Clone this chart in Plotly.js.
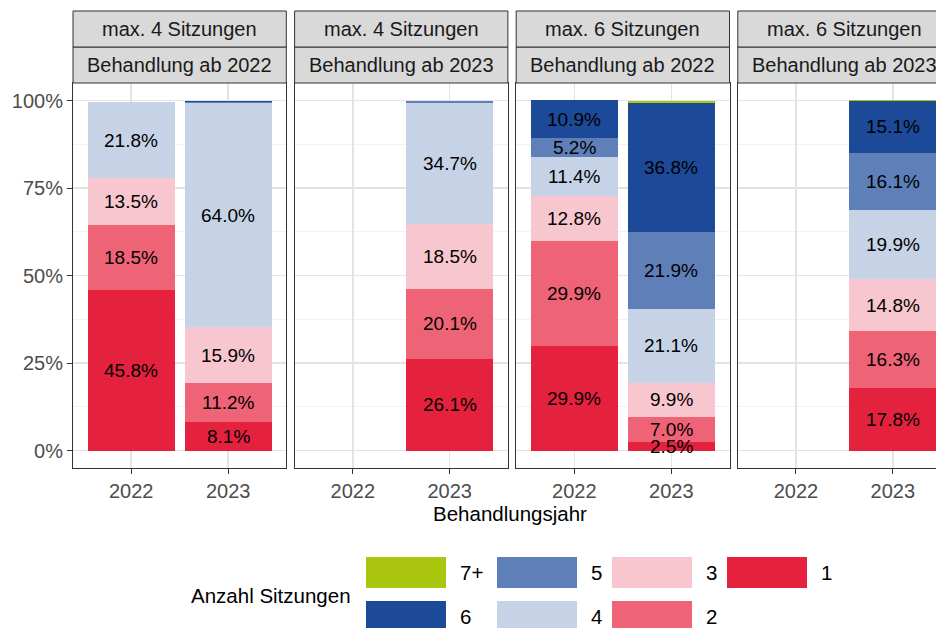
<!DOCTYPE html>
<html>
<head>
<meta charset="utf-8">
<script src="https://cdn.plot.ly/plotly-3.0.1.min.js"></script>
<style>
html, body { margin: 0; padding: 0; overflow: hidden; background: #fff; }
#chart { width: 952px; height: 628px; }
</style>
</head>
<body>
<div id="chart"></div>
<script>
// ---------------- data ----------------
const sessions = ['1', '2', '3', '4', '5', '6', '7+'];
const sessionColors = ['#E4223E', '#EF6377', '#F8C6CF', '#C6D3E6', '#5E7FB8', '#1C4A98', '#ABC60F'];

const stripTop = ['max. 4 Sitzungen', 'max. 4 Sitzungen', 'max. 6 Sitzungen', 'max. 6 Sitzungen'];
const stripBottom = ['Behandlung ab 2022', 'Behandlung ab 2023', 'Behandlung ab 2022', 'Behandlung ab 2023'];
const yearCategories = ['2022', '2023'];

// shares (%) by number of sessions: 1, 2, 3, 4, 5, 6, 7+
const p1_2022 = [45.8, 18.5, 13.5, 21.8, 0, 0, 0];
const p1_2023 = [8.1, 11.2, 15.9, 64.0, 0.4, 0.4, 0];
const p2_2023 = [26.1, 20.1, 18.5, 34.7, 0.6, 0, 0];
const p3_2022 = [29.9, 29.9, 12.8, 11.4, 5.2, 10.9, 0];
const p3_2023 = [2.5, 7.0, 9.9, 21.1, 21.9, 36.8, 0.8];
const p4_2023 = [17.8, 16.3, 14.8, 19.9, 16.1, 15.1, 0.2];

const yTicks = [0, 25, 50, 75, 100];
const yTickLabels = ['0%', '25%', '50%', '75%', '100%'];
const legendTitle = 'Anzahl Sitzungen';
const legendOrder = ['7+', '6', '5', '4', '3', '2', '1']; // column-major, 2 rows
const xTitle = 'Behandlungsjahr';

// ---------------- build ----------------
const panels = [
  { years: ['2022', '2023'], vals: [p1_2022, p1_2023] },
  { years: ['2023'], vals: [p2_2023] },
  { years: ['2022', '2023'], vals: [p3_2022, p3_2023] },
  { years: ['2023'], vals: [p4_2023] }
];

const FONT = 'Liberation Sans, Arial, sans-serif';
const W = 952, H = 628;
const M = { l: 73, r: 1, t: 83, b: 160 };
const PW = W - M.l - M.r, PH = H - M.t - M.b;
const panelW = 213.3, gapW = 8.3;
const px2x = p => (p - M.l) / PW;
const py2y = p => (H - M.b - p) / PH;

const traces = [];
const annotations = [];
const shapes = [];
const layout = {
  width: W, height: H,
  margin: M,
  paper_bgcolor: '#fff', plot_bgcolor: '#fff',
  barmode: 'stack', bargap: 0.1,
  showlegend: false,
  font: { family: FONT, size: 20, color: '#1A1A1A' }
};

panels.forEach((p, i) => {
  const xa = i === 0 ? 'x' : 'x' + (i + 1);
  const ya = i === 0 ? 'y' : 'y' + (i + 1);
  const d0 = i * (panelW + gapW) / PW;
  const d1 = Math.min(1, d0 + panelW / PW);
  layout[i === 0 ? 'xaxis' : 'xaxis' + (i + 1)] = {
    domain: [d0, d1], anchor: ya, type: 'category',
    categoryorder: 'array', categoryarray: yearCategories,
    range: [-0.6, 1.6], fixedrange: true,
    showline: true, mirror: true, linecolor: '#333333', linewidth: 1,
    ticks: 'outside', ticklen: 5, tickwidth: 1, tickcolor: '#333333',
    tickfont: { family: FONT, size: 20, color: '#4D4D4D' },
    showgrid: true, gridcolor: '#E3E3E3', gridwidth: 1.5,
    zeroline: false
  };
  layout[i === 0 ? 'yaxis' : 'yaxis' + (i + 1)] = {
    domain: [0, 1], anchor: xa,
    range: [-5, 105], fixedrange: true,
    tickmode: 'array', tickvals: yTicks, ticktext: yTickLabels,
    showticklabels: i === 0,
    ticks: i === 0 ? 'outside' : '', ticklen: 5, tickwidth: 1, tickcolor: '#333333',
    tickfont: { family: FONT, size: 20, color: '#4D4D4D' },
    showline: true, mirror: true, linecolor: '#333333', linewidth: 1,
    showgrid: true, gridcolor: '#E3E3E3', gridwidth: 1.5,
    minor: { tickmode: 'array', tickvals: [12.5, 37.5, 62.5, 87.5], showgrid: true, gridcolor: '#F2F2F2', gridwidth: 1, ticks: '' },
    zeroline: false
  };

  sessions.forEach((s, k) => {
    traces.push({
      type: 'bar', name: s,
      x: p.years, y: p.vals.map(v => v[k]),
      xaxis: xa, yaxis: ya,
      marker: { color: sessionColors[k], line: { width: 0 } },
      hovertemplate: s + ': %{y:.1f}%<extra></extra>'
    });
  });

  // labels centred in each segment (x given as category index)
  p.years.forEach((yr, j) => {
    let cum = 0;
    const xi = yearCategories.indexOf(yr);
    p.vals[j].forEach(v => {
      if (v >= 2) {
        annotations.push({
          xref: xa, yref: ya, x: xi, y: cum + v / 2,
          text: v.toFixed(1) + '%', showarrow: false,
          font: { family: FONT, size: 19, color: '#000000' },
          xanchor: 'center', yanchor: 'middle'
        });
      }
      cum += v;
    });
  });

  // strips
  const xd = xa + ' domain';
  const yb0 = 1, yb1 = py2y(47), yt1 = py2y(11);
  shapes.push({ type: 'rect', xref: xd, yref: 'paper', x0: 0, x1: 1, y0: yb0, y1: yb1,
    fillcolor: '#D9D9D9', line: { color: '#333333', width: 1 }, layer: 'above' });
  shapes.push({ type: 'rect', xref: xd, yref: 'paper', x0: 0, x1: 1, y0: yb1, y1: yt1,
    fillcolor: '#D9D9D9', line: { color: '#333333', width: 1 }, layer: 'above' });
  annotations.push({ xref: xd, yref: 'paper', x: 0.5, y: (yb1 + yt1) / 2, text: stripTop[i],
    showarrow: false, xanchor: 'center', yanchor: 'middle',
    font: { family: FONT, size: 20, color: '#1A1A1A' } });
  annotations.push({ xref: xd, yref: 'paper', x: 0.5, y: (yb0 + yb1) / 2, text: stripBottom[i],
    showarrow: false, xanchor: 'center', yanchor: 'middle',
    font: { family: FONT, size: 20, color: '#1A1A1A' } });
});

// x axis title
annotations.push({ xref: 'paper', yref: 'paper', x: px2x(510), y: py2y(513), text: xTitle,
  showarrow: false, xanchor: 'center', yanchor: 'middle',
  font: { family: FONT, size: 20.5, color: '#000000' } });

// legend (drawn manually, column-major in two rows)
annotations.push({ xref: 'paper', yref: 'paper', x: px2x(189), y: py2y(595), text: legendTitle,
  showarrow: false, xanchor: 'left', yanchor: 'middle',
  font: { family: FONT, size: 20.5, color: '#000000' } });
const colX = [366, 497, 612, 727];
const rowY = [557, 601];
const keyW = 80, keyH = 31;
legendOrder.forEach((s, n) => {
  const c = Math.floor(n / 2), r = n % 2;
  const k = sessions.indexOf(s);
  shapes.push({ type: 'rect', xref: 'paper', yref: 'paper',
    x0: px2x(colX[c]), x1: px2x(colX[c] + keyW), y0: py2y(rowY[r] + keyH), y1: py2y(rowY[r]),
    fillcolor: sessionColors[k], line: { width: 0 } });
  annotations.push({ xref: 'paper', yref: 'paper', x: px2x(colX[c] + keyW + 12), y: py2y(rowY[r] + keyH / 2),
    text: s, showarrow: false, xanchor: 'left', yanchor: 'middle',
    font: { family: FONT, size: 20.5, color: '#000000' } });
});

layout.annotations = annotations;
layout.shapes = shapes;

Plotly.newPlot('chart', traces, layout, { displayModeBar: false, staticPlot: true });
</script>
</body>
</html>
